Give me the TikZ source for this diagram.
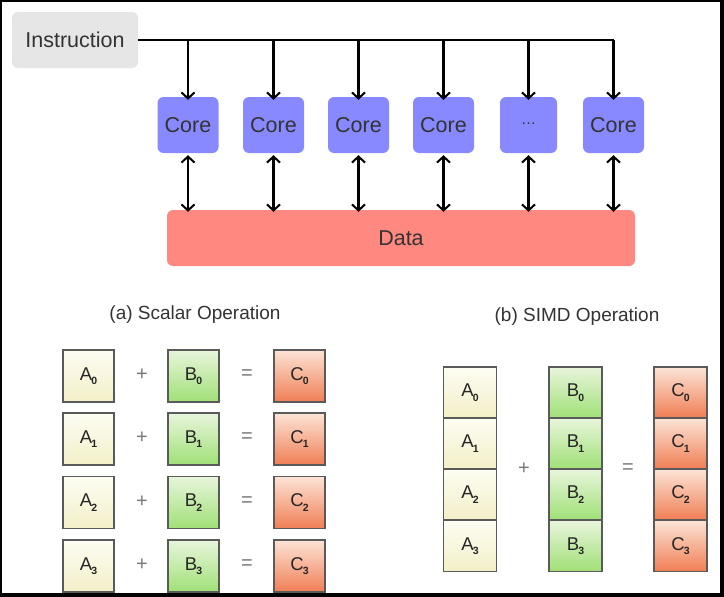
\documentclass[tikz,border=0pt]{standalone}
\usepackage{fontspec}
\setmainfont{Liberation Sans}
\usetikzlibrary{arrows.meta}
\definecolor{txt}{RGB}{51,51,51}
\definecolor{instrfill}{RGB}{230,230,230}
\definecolor{corefill}{RGB}{136,136,255}
\definecolor{datafill}{RGB}{255,136,128}
\definecolor{atop}{RGB}{253,253,242}
\definecolor{abot}{RGB}{243,239,200}
\definecolor{btop}{RGB}{232,245,220}
\definecolor{bbot}{RGB}{160,224,118}
\definecolor{ctop}{RGB}{252,228,214}
\definecolor{cbot}{RGB}{240,126,84}
\definecolor{boxline}{RGB}{90,90,90}
\definecolor{opgray}{RGB}{120,120,120}
\tikzset{
  x=1pt, y=-1pt,
  topbox/.style={rounded corners=6pt, text=txt, font=\fontsize{21.5}{21.5}\selectfont, inner sep=0pt},
  instrbox/.style={topbox, fill=instrfill, minimum width=126pt, minimum height=56pt},
  corebox/.style={topbox, fill=corefill, minimum width=61pt, minimum height=56pt},
  databox/.style={topbox, fill=datafill, minimum width=468pt, minimum height=56pt},
  wire/.style={line width=2.2pt, black},
  tip/.style={-{Straight Barb[length=6pt,width=13pt,line width=2pt]}},
  dtip/.style={{Straight Barb[length=6pt,width=13pt,line width=2pt]}-{Straight Barb[length=6pt,width=13pt,line width=2pt]}},
  cell/.style={draw=boxline, line width=1.2pt, minimum width=51pt, minimum height=52pt, inner sep=0pt, text=black!85, font=\fontsize{18.5}{18.5}\selectfont},
  acell/.style={cell, top color=atop, bottom color=abot},
  bcell/.style={cell, top color=btop, bottom color=bbot},
  ccell/.style={cell, top color=ctop, bottom color=cbot},
  scell/.style={minimum width=53pt, minimum height=51pt},
  opsign/.style={text=opgray, font=\fontsize{20}{20}\selectfont, inner sep=0pt},
  title/.style={text=txt, font=\fontsize{19}{19}\selectfont, inner sep=0pt}
}
\newcommand{\lbl}[2]{#1\kern-1pt{\fontsize{10.5}{10.5}\selectfont\bfseries\raisebox{-4.5pt}{#2}}}
\begin{document}
\begin{tikzpicture}
\useasboundingbox (0,0) rectangle (724,597);
\fill[white] (0,0) rectangle (724,597);
% top diagram
\node[instrbox] (instr) at (75,40) {Instruction};
\node[corebox] (c1) at (188,125) {Core};
\node[corebox] (c2) at (273.5,125) {Core};
\node[corebox] (c3) at (358.5,125) {Core};
\node[corebox] (c4) at (443.5,125) {Core};
\node[corebox, minimum width=57pt] (c5) at (528.5,125) {\fontsize{15}{15}\selectfont\raisebox{2pt}{…}};
\node[corebox] (c6) at (613.5,125) {Core};
\node[databox] (data) at (401,238) {Data};
\coordinate (bus) at (613.5,40);
\draw[wire] (instr.east) -- (bus);
\foreach \c in {c1,c2,c3,c4,c5,c6}{
  \draw[wire, tip] (bus -| \c) -- ([yshift=-3pt]\c.north);
  \draw[wire, dtip] ([yshift=-2pt]\c.south) -- ([yshift=-2pt]\c.south |- data.north);
}
% (a) scalar
\node[title] (ta) at (195,315) {(a) Scalar Operation};
\foreach \r/\y in {0/376,1/439,2/502.5,3/566}{
  \node[acell] (sa\r) at (88.5,\y) {\lbl{A}{\r}};
  \node[bcell] (sb\r) at (193.5,\y) {\lbl{B}{\r}};
  \node[ccell] (sc\r) at (299.5,\y) {\lbl{C}{\r}};
  \node[opsign] (sp\r) at (142,\y-1) {+};
  \node[opsign] (se\r) at (247,\y-1) {=};
}
% (b) SIMD
\node[title] (tb) at (577,317) {(b) SIMD Operation};
\foreach \r/\y in {0/392.5,1/443.5,2/494.5,3/546}{
  \node[acell, scell] (va\r) at (470,\y) {\lbl{A}{\r}};
  \node[bcell, scell] (vb\r) at (575.5,\y) {\lbl{B}{\r}};
  \node[ccell, scell] (vc\r) at (680.5,\y) {\lbl{C}{\r}};
}
\node[opsign] (vp) at (524,469) {+};
\node[opsign] (ve) at (628,469) {=};
% frame
\draw[line width=2pt] (1,1) rectangle (721,595);
\draw[line width=4pt] (722,0) -- (722,597);
\draw[line width=4pt] (0,595) -- (724,595);
\end{tikzpicture}
\end{document}
